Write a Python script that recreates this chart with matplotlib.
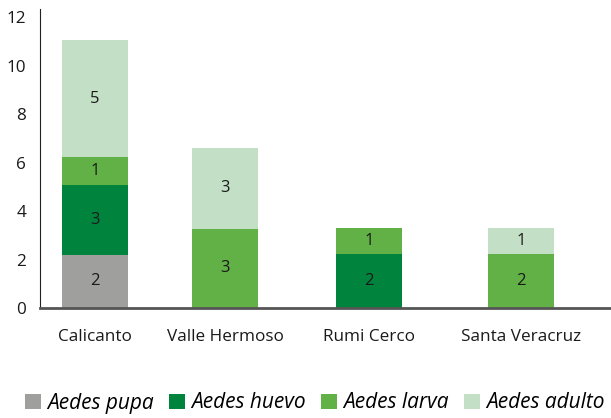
import numpy as np
import matplotlib.pyplot as plt

plt.rcParams['font.family'] = ['Open Sans', 'DejaVu Sans']

# Datos
localidades = ['Calicanto', 'Valle Hermoso', 'Rumi Cerco', 'Santa Veracruz']
series = ['Aedes pupa', 'Aedes huevo', 'Aedes larva', 'Aedes adulto']
pupa = [2.2, 0, 0, 0]
huevo = [2.86, 0, 2.24, 0]
larva = [1.16, 3.28, 1.08, 2.24]
adulto = [4.86, 3.32, 0, 1.08]
colores = ['#9f9f9d', '#00843d', '#62b146', '#c3e0c7']

fig = plt.figure(figsize=(6.11, 4.18), dpi=100)
ax = fig.add_axes([40 / 611, 110 / 418, 571 / 611, 299 / 418])

x = np.array([0.95, 2.25, 3.69, 5.21])
ancho = 0.66
base = np.zeros(len(localidades))
for nombre, valores, color in zip(series, [pupa, huevo, larva, adulto], colores):
    valores = np.array(valores)
    barras = ax.bar(x, valores, ancho, bottom=base, color=color, label=nombre)
    etiquetas = ['%.0f' % v if v > 0 else '' for v in valores]
    ax.bar_label(barras, labels=etiquetas, label_type='center', fontsize=12, color='#1a1a1a')
    base += valores

ax.set_xlim(0.4, 6.11)
ax.set_ylim(0, 12.35)
ax.set_yticks(range(0, 13, 2))
ax.set_xticks(x)
ax.set_xticklabels(localidades, fontsize=12.3, color='#1a1a1a')
ax.tick_params(axis='y', length=0, labelsize=12.3, pad=10, labelcolor='#1a1a1a')
ax.tick_params(axis='x', length=0, pad=15)
for lado in ['top', 'right']:
    ax.spines[lado].set_visible(False)
ax.spines['left'].set_color('#222222')
ax.spines['bottom'].set_color('#555555')
ax.spines['bottom'].set_linewidth(2)

fig.legend(loc='center left', bbox_to_anchor=(25 / 611, 1 - 403 / 418), ncol=4, frameon=False,
           prop={'style': 'italic', 'size': 15}, handlelength=0.75, handleheight=0.75,
           handletextpad=0.3, columnspacing=0.75, borderaxespad=0, borderpad=0)

plt.savefig('out.png')
